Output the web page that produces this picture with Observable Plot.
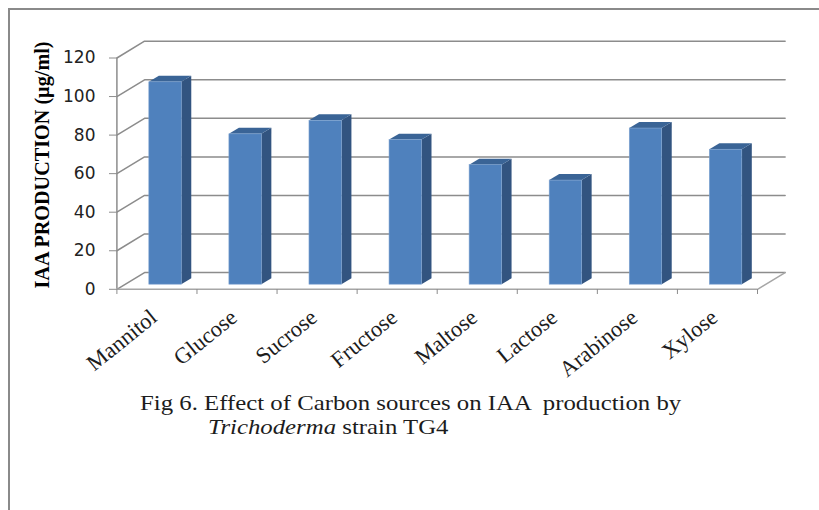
<!DOCTYPE html>
<html>
<head>
<meta charset="utf-8">
<script src="https://cdn.jsdelivr.net/npm/d3@7"></script>
<script src="https://cdn.jsdelivr.net/npm/@observablehq/plot@0.6"></script>
<style>
  html, body { margin: 0; padding: 0; background: #fff; }
  #page { position: relative; width: 819px; height: 510px; overflow: hidden; }
  #frame { position: absolute; left: 8px; top: 8px; width: 900px; height: 600px;
           border-left: 2px solid #8a8a8a; border-top: 2px solid #8a8a8a; }
  #chart { position: absolute; left: 0; top: 0; }
  .caption { position: absolute; font-family: "Liberation Serif", serif; font-size: 21px;
             color: #1c1c1c; white-space: pre; line-height: 1;
             transform-origin: left top; transform: scaleX(1.18); }
</style>
</head>
<body>
<div id="page">
  <div id="frame"></div>
  <div id="chart"></div>
  <div class="caption" style="left:140px; top:393px;">Fig 6. Effect of Carbon sources on IAA  production by</div>
  <div class="caption" style="left:208px; top:417px;"><i>Trichoderma</i> strain TG4</div>
</div>
<script>
const categories = ["Mannitol", "Glucose", "Sucrose", "Fructose", "Maltose", "Lactose", "Arabinose", "Xylose"];
const production = [105, 78, 85, 75, 62, 54, 81, 70];
const yTicks = [0, 20, 40, 60, 80, 100, 120];
const yTitle = "IAA PRODUCTION (µg/ml)";

// Oblique projection, in scale units: how far the back wall sits from the front plane.
const wallDx = 0.345, wallDy = 8.7;
// Column placement inside a category slot, and the depth of each column.
const barStart = 0.405, barWidth = 0.405, barDx = 0.125, barDy = 3.1, barLift = 2.4;

const gridColor = "#8c8c8c";
const bars = categories.map((name, i) => {
  const x1 = i + barStart, x2 = x1 + barWidth;
  return {name, value: production[i], x1, x2, y1: barLift, y2: production[i] + barLift, mid: i + 0.5};
});
const sideFaces = bars.flatMap(b => [
  {name: b.name, x: b.x2, lo: b.y1, hi: b.y2},
  {name: b.name, x: b.x2 + barDx, lo: b.y1 + barDy, hi: b.y2 + barDy}
]);
const topFaces = bars.flatMap(b => [
  {name: b.name, a: b.x1, b: b.x2, y: b.y2},
  {name: b.name, a: b.x1 + barDx, b: b.x2 + barDx, y: b.y2 + barDy}
]);
const backLines = yTicks.flatMap(v => [
  {v, x: 0, y: v},
  {v, x: wallDx, y: v + wallDy},
  {v, x: 8 + wallDx, y: v + wallDy}
]);
const floorRight = [{x: 8, y: 0}, {x: 8 + wallDx, y: wallDy}];

const chart = Plot.plot({
  width: 819,
  height: 510,
  marginLeft: 116,
  marginRight: 62,
  marginTop: 57,
  marginBottom: 221,
  x: {type: "linear", domain: [0, 8], range: [116.4, 757]},
  y: {type: "linear", domain: [0, 120], range: [288.8, 57.5]},
  style: {background: "transparent", overflow: "visible"},
  marks: [
    Plot.line(backLines, {x: "x", y: "y", z: "v", stroke: gridColor, strokeWidth: 1.5}),
    Plot.line(floorRight, {x: "x", y: "y", stroke: "#a6a6a6", strokeWidth: 1.5}),
    Plot.ruleX([0], {y1: 0, y2: 120, stroke: gridColor, strokeWidth: 1.5}),
    Plot.ruleY([0], {x1: 0, x2: 8, stroke: "#a6a6a6", strokeWidth: 1.5}),
    Plot.axisY({
      ticks: yTicks, tickSize: 7, tickPadding: 14, label: null, stroke: gridColor,
      fontFamily: "DejaVu Sans", fontSize: 17, color: "#222", tickFormat: d => d
    }),
    Plot.axisX({
      ticks: d3.range(0, 9), tickSize: 5, tickPadding: 0, label: null, stroke: gridColor,
      tickFormat: () => ""
    }),
    Plot.area(sideFaces, {x1: "x", y1: "lo", y2: "hi", z: "name", fill: "#325480"}),
    Plot.area(topFaces, {x1: "a", x2: "b", y1: "y", z: "name", fill: "#3a6496"}),
    Plot.rect(bars, {x1: "x1", x2: "x2", y1: "y1", y2: "y2", fill: "#4f81bd", stroke: "#7ea3d0", strokeWidth: 0.6}),
    Plot.text(bars, {
      x: "mid", y: 0, text: "name", rotate: -39, textAnchor: "end", lineAnchor: "middle",
      dx: -3, dy: 25, fontFamily: "Liberation Serif", fontSize: 22.5, fill: "#1c1c1c"
    }),
    Plot.text([yTitle], {
      x: -0.925, y: 64.5, text: d => d, rotate: -90, textAnchor: "middle", lineAnchor: "middle",
      fontFamily: "Liberation Serif", fontWeight: "bold", fontSize: 20.2, fill: "#000"
    })
  ]
});
document.getElementById("chart").appendChild(chart);
</script>
</body>
</html>
